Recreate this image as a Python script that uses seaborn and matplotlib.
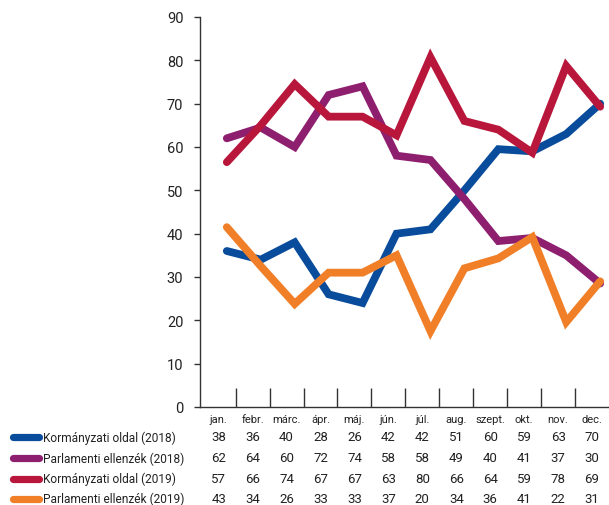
import numpy as np
import pandas as pd
import matplotlib
matplotlib.use('Agg')
import matplotlib.pyplot as plt
import seaborn as sns
from matplotlib.lines import Line2D

# Adatok
honapok = ['jan.', 'febr.', 'márc.', 'ápr.', 'máj.', 'jún.',
           'júl.', 'aug.', 'szept.', 'okt.', 'nov.', 'dec.']
sorozatok = ['Kormányzati oldal (2018)', 'Parlamenti ellenzék (2018)',
             'Kormányzati oldal (2019)', 'Parlamenti ellenzék (2019)']

# a grafikonon látható vonalak értékei
korm_2018 = [36, 34, 38, 26, 24, 40, 41, 50, 59.5, 59, 63, 70]
ellenzek_2018 = [62, 64.5, 60, 72, 74, 58, 57, 48, 38.3, 39, 35, 28.5]
korm_2019 = [56.5, 65, 74.5, 67, 67, 62.7, 80.7, 66, 64, 58.7, 78.7, 69.3]
ellenzek_2019 = [41.5, 32.5, 23.8, 31, 31, 35, 17.5, 32, 34.3, 39.2, 19.6, 29]

# a táblázat értékei
tabla_korm_2018 = [38, 36, 40, 28, 26, 42, 42, 51, 60, 59, 63, 70]
tabla_ellenzek_2018 = [62, 64, 60, 72, 74, 58, 58, 49, 40, 41, 37, 30]
tabla_korm_2019 = [57, 66, 74, 67, 67, 63, 80, 66, 64, 59, 78, 69]
tabla_ellenzek_2019 = [43, 34, 26, 33, 33, 37, 20, 34, 36, 41, 22, 31]

szinek = ['#0a4c9c', '#8e1f6e', '#b8173b', '#f07f28']

vonalak = [korm_2018, ellenzek_2018, korm_2019, ellenzek_2019]
tablak = [tabla_korm_2018, tabla_ellenzek_2018, tabla_korm_2019, tabla_ellenzek_2019]

sns.set_style('white')
plt.rcParams['font.family'] = ['Roboto', 'DejaVu Sans']

sorok = []
for nev, ertekek in zip(sorozatok, vonalak):
    for i, v in enumerate(ertekek):
        sorok.append({'x': i + 0.24, 'ertek': v, 'sorozat': nev})
df = pd.DataFrame(sorok)

fig = plt.figure(figsize=(6.09, 5.06), dpi=100)
ax = fig.add_axes([200 / 609, 1 - 408 / 506, 1 - 200 / 609, (408 - 18) / 506])

sns.lineplot(data=df, x='x', y='ertek', hue='sorozat', hue_order=sorozatok,
             palette=szinek, linewidth=5.6, legend=False, ax=ax,
             solid_capstyle='round', solid_joinstyle='miter')

ax.set_xlim(-0.55, 11.5)
ax.set_ylim(0, 90)
ax.set_yticks(range(0, 91, 10))
ax.tick_params(axis='y', labelsize=10.5, length=4, width=1, color='#333333',
               labelcolor='#222222', pad=8, left=True)
ax.set_xticks(range(12))
ax.set_xticklabels(honapok, fontsize=8, color='#222222')
ax.tick_params(axis='x', length=0, pad=5)
ax.set_xticks(np.arange(0.5, 11, 1), minor=True)
ax.tick_params(axis='x', which='minor', direction='in', length=14, width=1,
               color='#333333', bottom=True)
ax.set_xlabel('')
ax.set_ylabel('')
for s in ['top', 'right']:
    ax.spines[s].set_visible(False)
for s in ['left', 'bottom']:
    ax.spines[s].set_color('#333333')
    ax.spines[s].set_linewidth(1)
ax.grid(False)

# jelmagyarázat és táblázat
trans = matplotlib.transforms.blended_transform_factory(ax.transData, fig.transFigure)
sor_y = [438, 459, 479.5, 499.5]
for nev, szin, tabla, y in zip(sorozatok, szinek, tablak, sor_y):
    yf = 1 - y / 506
    fig.add_artist(Line2D([13 / 609, 39 / 609], [yf, yf], color=szin, linewidth=5.2,
                          solid_capstyle='round', transform=fig.transFigure))
    fig.text(43 / 609, yf, nev, fontsize=8.6, color='#222222',
             va='center', ha='left')
    for i, v in enumerate(tabla):
        ax.text(i, yf, str(v), transform=trans, fontsize=9.5, color='#222222',
                ha='center', va='center')

fig.savefig('out.png', dpi=100)
